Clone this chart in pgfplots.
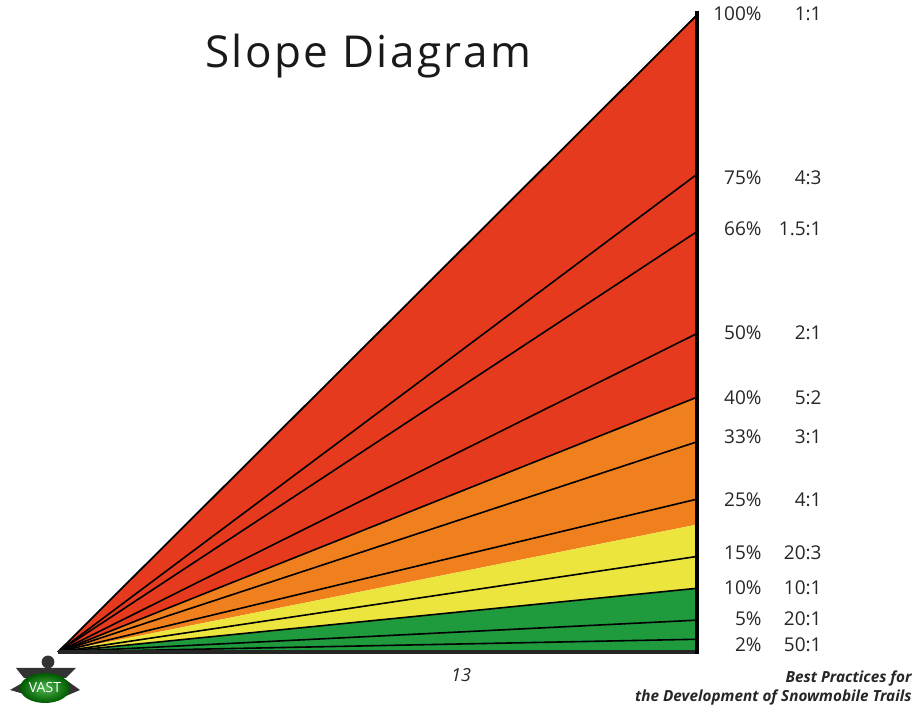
\documentclass[border=0pt]{standalone}
\usepackage{pgfplots}
\pgfplotsset{compat=1.18}
\usepackage{fontspec}
\setmainfont{Open Sans}
\definecolor{sred}{HTML}{E63A1E}
\definecolor{sorange}{HTML}{F0801E}
\definecolor{syellow}{HTML}{ECE53E}
\definecolor{sgreen}{HTML}{1F9A3D}
\begin{document}
\begin{tikzpicture}
\useasboundingbox (0,0) rectangle (457.5pt,353pt);
\begin{axis}[
  at={(29pt,27pt)}, anchor=south west,
  scale only axis, width=319.5pt, height=318.5pt,
  xmin=0, xmax=1, ymin=0, ymax=1,
  hide axis, clip=false,
]
% colour bands
\addplot[fill=sred, draw=none] coordinates {(0,0) (1,0.40) (1,1.0) (0,0)};
\addplot[fill=sorange, draw=none] coordinates {(0,0) (1,0.20) (1,0.40) (0,0)};
\addplot[fill=syellow, draw=none] coordinates {(0,0) (1,0.10) (1,0.20) (0,0)};
\addplot[fill=sgreen, draw=none] coordinates {(0,0) (1,0.0) (1,0.10) (0,0)};
% slope lines
\addplot[black, line width=0.9pt] coordinates {(0,0) (1,1.00)};
\addplot[black, line width=0.8pt] coordinates {(0,0) (1,0.75)};
\addplot[black, line width=0.8pt] coordinates {(0,0) (1,0.66)};
\addplot[black, line width=0.8pt] coordinates {(0,0) (1,0.50)};
\addplot[black, line width=0.8pt] coordinates {(0,0) (1,0.40)};
\addplot[black, line width=0.8pt] coordinates {(0,0) (1,0.33)};
\addplot[black, line width=0.8pt] coordinates {(0,0) (1,0.24)};
\addplot[black, line width=0.8pt] coordinates {(0,0) (1,0.15)};
\addplot[black, line width=0.8pt] coordinates {(0,0) (1,0.10)};
\addplot[black, line width=0.8pt] coordinates {(0,0) (1,0.05)};
\addplot[black, line width=0.8pt] coordinates {(0,0) (1,0.02)};
\addplot[black!85, line width=1.6pt] coordinates {(0,0) (1,0)};
\addplot[black, line width=2.4pt] coordinates {(1,-0.003) (1,1.006)};
% labels
\begin{scope}[every node/.style={anchor=east, inner sep=0pt, text=black!85, font=\fontsize{9.5}{11}\selectfont}]
\node at (axis cs:1.1017,1.0016) {100\%};  \node at (axis cs:1.1956,1.0016) {1:1};
\node at (axis cs:1.1017,0.744) {75\%};    \node at (axis cs:1.1956,0.744) {4:3};
\node at (axis cs:1.1017,0.664) {66\%};    \node at (axis cs:1.1956,0.664) {1.5:1};
\node at (axis cs:1.1017,0.501) {50\%};    \node at (axis cs:1.1956,0.501) {2:1};
\node at (axis cs:1.1017,0.399) {40\%};    \node at (axis cs:1.1956,0.399) {5:2};
\node at (axis cs:1.1017,0.3375) {33\%};   \node at (axis cs:1.1956,0.3375) {3:1};
\node at (axis cs:1.1017,0.2386) {25\%};   \node at (axis cs:1.1956,0.2386) {4:1};
\node at (axis cs:1.1017,0.1554) {15\%};   \node at (axis cs:1.1956,0.1554) {20:3};
\node at (axis cs:1.1017,0.1005) {10\%};   \node at (axis cs:1.1956,0.1005) {10:1};
\node at (axis cs:1.1017,0.0518) {5\%};    \node at (axis cs:1.1956,0.0518) {20:1};
\node at (axis cs:1.1017,0.011) {2\%};     \node at (axis cs:1.1956,0.011) {50:1};
\end{scope}
\end{axis}
% title
\node[anchor=base west, inner sep=0pt, text=black!90, font=\fontsize{22}{26}\selectfont\addfontfeature{LetterSpace=5.5}] at (102.5pt,319pt) {Slope Diagram};
% page number
\node[anchor=base, inner sep=0pt, text=black!85, font=\fontsize{9}{10}\selectfont\itshape] at (230.5pt,12pt) {13};
% footer
\node[anchor=base east, inner sep=0pt, text=black!85, font=\fontsize{7.65}{9}\selectfont\bfseries\itshape] at (456pt,11.5pt) {Best Practices for};
\node[anchor=base east, inner sep=0pt, text=black!85, font=\fontsize{7.65}{9}\selectfont\bfseries\itshape] at (456pt,2pt) {the Development of Snowmobile Trails};
% logo
\fill[black!80] (12pt,14pt) -- (33pt,14pt) -- (38pt,19pt) -- (8pt,19pt) -- cycle;
\fill[black!80] (24pt,22pt) circle (3.2pt);
\fill[black!80] (5pt,8pt) -- (12pt,12pt) -- (12pt,6pt) -- cycle;
\fill[black!80] (40pt,8pt) -- (33pt,13pt) -- (33pt,5pt) -- cycle;
\shade[inner color=green!60!black!70, outer color=green!35!black] (22.5pt,9pt) ellipse (12.5pt and 7.5pt);
\node[text=white, inner sep=0pt, font=\fontsize{7}{8}\selectfont] at (22.5pt,9pt) {VAST};
\end{tikzpicture}
\end{document}
